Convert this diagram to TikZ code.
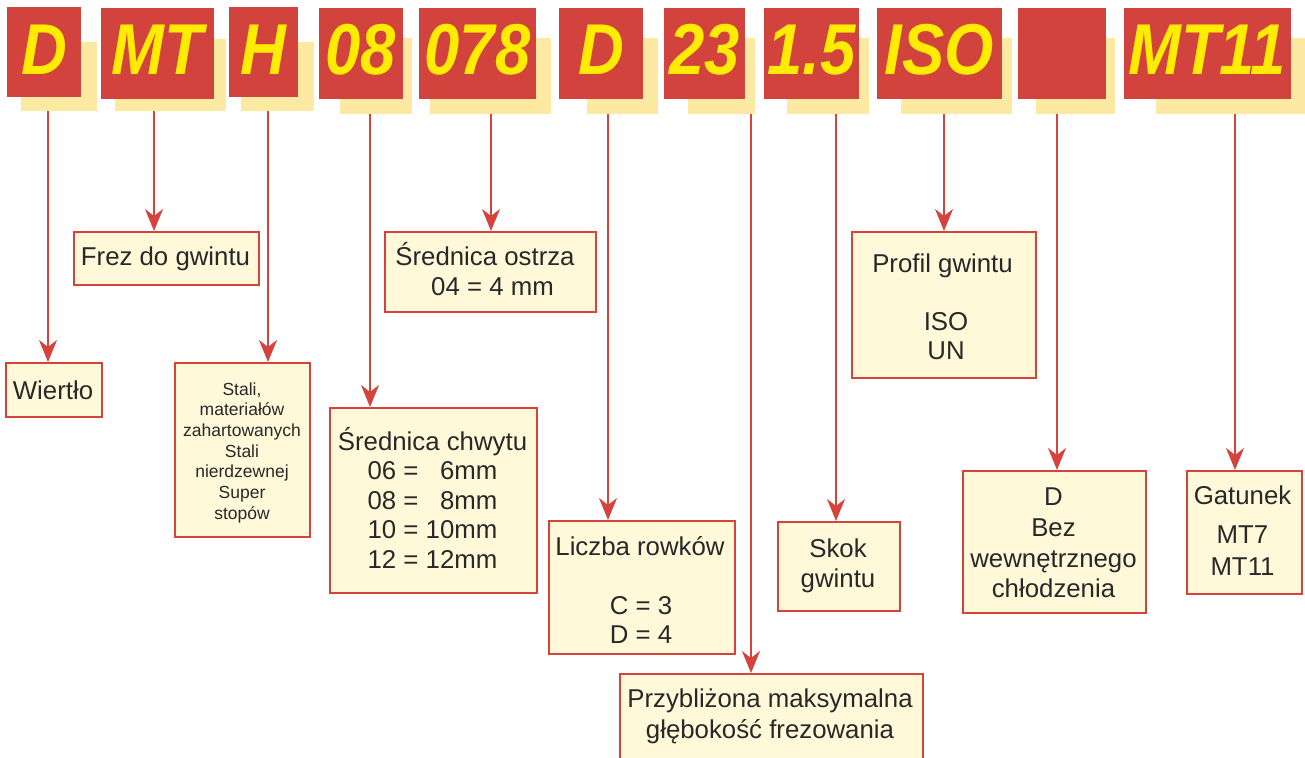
\documentclass[tikz,border=0pt]{standalone}
\usepackage{fontspec}
\setmainfont{Liberation Sans}
\newfontfamily\hdrfont[FakeStretch=0.88]{Liberation Sans}
\usetikzlibrary{arrows.meta}

\definecolor{hred}{RGB}{211,67,61}
\definecolor{hshadow}{RGB}{253,233,162}
\definecolor{hyellow}{RGB}{255,236,0}
\definecolor{bfill}{RGB}{255,249,218}
\definecolor{bred}{RGB}{214,66,60}
\definecolor{ink}{RGB}{40,40,40}

\tikzset{
  shd/.style={fill=hshadow, inner sep=0pt, anchor=north west},
  hdr/.style={fill=hred, text=hyellow, inner sep=0pt, anchor=base,
    font=\hdrfont\bfseries\itshape\fontsize{72}{72}\selectfont},
  infobox/.style={draw=bred, line width=2pt, fill=bfill, inner sep=0pt, anchor=north west},
  txt/.style={text=ink, inner sep=0pt, anchor=base, font=\fontsize{25.8}{30}\selectfont},
  smalltxt/.style={txt, font=\fontsize{17.5}{21}\selectfont},
  arr/.style={draw=bred, line width=2pt, -{Stealth[length=22pt,width=18pt,inset=7pt]}}
}

\begin{document}
\begin{tikzpicture}[x=1pt,y=-1pt]
\useasboundingbox (0,0) rectangle (1305,757);

% shadows behind the code letters
\node[shd, minimum width=76pt, minimum height=69pt] (s1) at (21,42) {};
\node[shd, minimum width=111pt, minimum height=72pt] (s2) at (115,39) {};
\node[shd, minimum width=73pt, minimum height=69pt] (s3) at (241,42) {};
\node[shd, minimum width=72pt, minimum height=76pt] (s4) at (340,38) {};
\node[shd, minimum width=121pt, minimum height=76pt] (s5) at (430,38) {};
\node[shd, minimum width=71pt, minimum height=76pt] (s6) at (587,38) {};
\node[shd, minimum width=67pt, minimum height=76pt] (s7) at (688,38) {};
\node[shd, minimum width=82pt, minimum height=76pt] (s8) at (787,38) {};
\node[shd, minimum width=111pt, minimum height=76pt] (s9) at (901,38) {};
\node[shd, minimum width=79pt, minimum height=76pt] (s10) at (1036,38) {};
\node[shd, minimum width=154pt, minimum height=76pt] (s11) at (1156,38) {};

% code letters
\node[hdr, minimum width=74pt, text height=68pt, text depth=22pt] (h1) at (44,75) {D};
\node[hdr, minimum width=113pt, text height=67pt, text depth=24pt] (h2) at (157.5,75) {MT};
\node[hdr, minimum width=69pt, text height=68pt, text depth=22pt] (h3) at (263.5,75) {H};
\node[hdr, minimum width=84pt, text height=67pt, text depth=24pt] (h4) at (361,75) {08};
\node[hdr, minimum width=117pt, text height=67pt, text depth=24pt] (h5) at (477.5,75) {078};
\node[hdr, minimum width=84pt, text height=67pt, text depth=24pt] (h6) at (601,75) {D};
\node[hdr, minimum width=81pt, text height=67pt, text depth=24pt] (h7) at (704.5,75) {23};
\node[hdr, minimum width=95pt, text height=67pt, text depth=24pt] (h8) at (811.5,75) {1.5};
\node[hdr, minimum width=125pt, text height=67pt, text depth=24pt] (h9) at (939.5,75) {ISO};
\node[hdr, minimum width=88pt, text height=67pt, text depth=24pt] (h10) at (1062,75) {};
\node[hdr, minimum width=167pt, text height=67pt, text depth=24pt] (h11) at (1207,75) {MT11};

% description boxes
\node[infobox, minimum width=96pt, minimum height=54pt] (b1) at (5,362) {};
\node[infobox, minimum width=185pt, minimum height=53pt] (b2) at (73,231) {};
\node[infobox, minimum width=135pt, minimum height=174pt] (b3) at (174,362) {};
\node[infobox, minimum width=207pt, minimum height=185pt] (b4) at (329,407) {};
\node[infobox, minimum width=211pt, minimum height=80pt] (b5) at (384,231) {};
\node[infobox, minimum width=186pt, minimum height=133pt] (b6) at (548,520) {};
\node[infobox, minimum width=303pt, minimum height=100pt] (b7) at (619,673) {};
\node[infobox, minimum width=122pt, minimum height=89pt] (b8) at (777,521) {};
\node[infobox, minimum width=184pt, minimum height=146pt] (b9) at (851,231) {};
\node[infobox, minimum width=183pt, minimum height=142pt] (b10) at (962,470) {};
\node[infobox, minimum width=115pt, minimum height=123pt] (b11) at (1186,470) {};

% box texts
\node[txt] (t1) at (53,399) {Wiertło};
\node[txt] (t2) at (165.5,265) {Frez do gwintu};
\node[smalltxt] (t3a) at (242,395) {Stali,};
\node[smalltxt] (t3b) at (242,415.7) {materiałów};
\node[smalltxt] (t3c) at (242,436.4) {zahartowanych};
\node[smalltxt] (t3d) at (242,457.1) {Stali};
\node[smalltxt] (t3e) at (242,477.8) {nierdzewnej};
\node[smalltxt] (t3f) at (242,498.5) {Super};
\node[smalltxt] (t3g) at (242,519.2) {stopów};
\node[txt] (t4a) at (432.5,450) {Średnica chwytu};
\node[txt] (t4b) at (432.5,479.5) {06 = \phantom{1}6mm};
\node[txt] (t4c) at (432.5,509) {08 = \phantom{1}8mm};
\node[txt] (t4d) at (432.5,538.5) {10 = 10mm};
\node[txt] (t4e) at (432.5,568) {12 = 12mm};
\node[txt] (t5a) at (485,265) {Średnica ostrza};
\node[txt] (t5b) at (492.5,295) {04 = 4 mm};
\node[txt] (t6a) at (640,555) {Liczba rowków};
\node[txt] (t6b) at (641,614) {C = 3};
\node[txt] (t6c) at (641,643.5) {D = 4};
\node[txt] (t7a) at (770,707) {Przybliżona maksymalna};
\node[txt] (t7b) at (770,738) {głębokość frezowania};
\node[txt] (t8a) at (838,557) {Skok};
\node[txt] (t8b) at (838,587) {gwintu};
\node[txt] (t9a) at (942.5,272) {Profil gwintu};
\node[txt] (t9b) at (946,330) {ISO};
\node[txt] (t9c) at (946,359) {UN};
\node[txt] (t10a) at (1053.5,505) {D};
\node[txt] (t10b) at (1053.5,536) {Bez};
\node[txt] (t10c) at (1053.5,567) {wewnętrznego};
\node[txt] (t10d) at (1053.5,597) {chłodzenia};
\node[txt] (t11a) at (1242.5,504) {Gatunek};
\node[txt] (t11b) at (1242.5,543) {MT7};
\node[txt] (t11c) at (1242.5,575) {MT11};

% arrow columns
\coordinate (a1) at (48,0);
\coordinate (a2) at (154,0);
\coordinate (a3) at (268,0);
\coordinate (a4) at (370,0);
\coordinate (a5) at (491,0);
\coordinate (a6) at (608,0);
\coordinate (a7) at (751,0);
\coordinate (a8) at (836,0);
\coordinate (a9) at (944,0);
\coordinate (a10) at (1057,0);
\coordinate (a11) at (1235,0);

\foreach \i in {1,...,11}{
  \draw[arr] (s\i.south -| a\i) -- (b\i.north -| a\i);
}
\end{tikzpicture}
\end{document}
